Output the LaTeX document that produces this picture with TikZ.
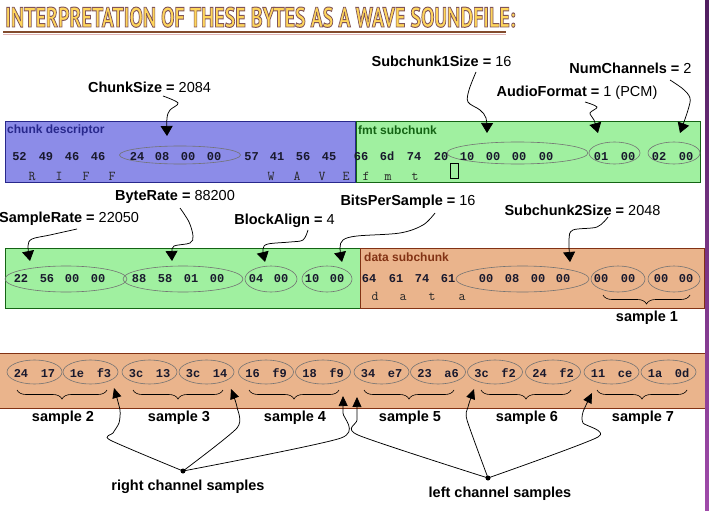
\documentclass[tikz,border=0pt]{standalone}
\usepackage{graphicx}
\usepackage{fontspec}
\setmainfont{Liberation Sans}
\newfontfamily\hexfont{Liberation Mono}
\newfontfamily\ascfont{Latin Modern Mono}
\newfontfamily\titlefont{PT Sans}
\usetikzlibrary{arrows.meta,decorations.pathreplacing,shapes.geometric}
\definecolor{blueF}{RGB}{140,140,232}
\definecolor{blueD}{RGB}{40,40,140}
\definecolor{greenF}{RGB}{160,240,160}
\definecolor{greenD}{RGB}{20,100,20}
\definecolor{orangeF}{RGB}{234,180,140}
\definecolor{orangeD}{RGB}{130,50,20}
\definecolor{titleY}{RGB}{255,214,92}
\definecolor{ruleB}{RGB}{130,75,45}
\definecolor{ruleS}{RGB}{225,180,180}
\definecolor{purT}{RGB}{80,30,95}
\definecolor{purB}{RGB}{160,75,170}
\definecolor{hexC}{RGB}{25,25,45}
\newcommand\mytitle{\resizebox{510pt}{20pt}{\fontsize{28.5}{28.5}\titlefont\bfseries\color{titleY}\special{pdf:literal direct 0.50 0.33 0.35 RG 1.0 w 2 Tr}INTERPRETATION OF THESE BYTES AS A WAVE SOUNDFILE:\special{pdf:literal direct 0 Tr}}}
\begin{document}
\begin{tikzpicture}[x=1pt,y=-1pt,
  lbl/.style={font=\fontsize{14.5}{14.5}\selectfont, inner sep=0pt},
  smp/.style={font=\bfseries\fontsize{14.5}{14.5}\selectfont, inner sep=0pt},
  sec/.style={font=\bfseries\fontsize{12}{12}\selectfont, inner sep=0pt, anchor=west},
  hexb/.style={font=\hexfont\bfseries\fontsize{12}{12}\selectfont, inner sep=0pt, anchor=base, text=hexC},
  asc/.style={font=\ascfont\fontsize{13.5}{13.5}\selectfont, inner sep=0pt, anchor=base, text=black!85},
  oval/.style={ellipse, draw=black!55, line width=0.6pt, inner sep=0pt},
  boxn/.style={line width=0.8pt, inner sep=0pt, anchor=north west},
  arr/.style={line width=0.75pt, -{Triangle[length=10pt,width=12pt]}},
  arrb/.style={line width=0.75pt, -{Triangle[length=10pt,width=9pt]}},
  brc/.style={decorate, decoration={brace, mirror, amplitude=9pt}, line width=0.6pt},
  dotn/.style={circle, fill=black, inner sep=0pt, minimum size=5pt}]
\useasboundingbox (0,0) rectangle (709,511);
\fill[white] (0,0) rectangle (709,511);
\shade[top color=purT,bottom color=purB] (705,0) rectangle (709,511);

% title
\node[inner sep=0pt, anchor=base west] (title) at (5,27) {\mytitle};
\draw[ruleS, line width=1.5pt] (3,34.5) -- (506,34.5);
\draw[ruleB, line width=2pt] (3,32) -- (506,32);

% ---------- row 1 ----------
\node[boxn, draw=blueD, fill=blueF, minimum width=350pt, minimum height=61pt] (chunkbox) at (5,121) {};
\node[boxn, draw=greenD, fill=greenF, minimum width=344pt, minimum height=61pt] (fmtbox) at (356,121) {};
\node[sec, text=blueD] (chunklbl) at (7,130) {chunk descriptor};
\node[sec, text=greenD] (fmtlbl) at (358,130) {fmt subchunk};

\node[oval, minimum width=121pt, minimum height=18pt] (ovCS) at (180,155) {};
\node[oval, minimum width=141pt, minimum height=22pt] (ovS1) at (517.5,153) {};
\node[oval, minimum width=51pt, minimum height=22pt] (ovAF) at (614.5,153) {};
\node[oval, minimum width=52pt, minimum height=22pt] (ovNC) at (674,153) {};

\foreach \x/\t [count=\i] in {19.5/52,46/49,72/46,98/46,137/24,162/08,188/00,214/00,251.5/57,277/41,303/56,329/45}
  \node[hexb] (ba\i) at (\x,160) {\t};
\foreach \x/\t [count=\i] in {32/R,59/I,86/F,112/F,271/W,297/A,322/V,346/E}
  \node[asc] (la\i) at (\x,180) {\t};
\foreach \x/\t [count=\i] in {361/66,387/6d,414/74,441/20,467/10,493/00,519/00,546/00,601/01,628/00,659/02,686/00}
  \node[hexb] (bb\i) at (\x,160) {\t};
\foreach \x/\t [count=\i] in {366/f,388/m,415/t}
  \node[asc] (lb\i) at (\x,180) {\t};
\draw[line width=0.6pt] (450,163) rectangle (458,178);

\node[lbl] (lCS) at (149.5,87) {\textbf{ChunkSize =} 2084};
\node[lbl] (lS1) at (441.5,61) {\textbf{Subchunk1Size =} 16};
\node[lbl] (lNC) at (630.5,68) {\textbf{NumChannels =} 2};
\node[lbl] (lAF) at (577,93) {\textbf{AudioFormat =} 1 (PCM)};

\coordinate (tCS) at (167,136);
\coordinate (tS1) at (487,133);
\coordinate (tAF) at (598,133);
\coordinate (tNC) at (680,133);
\draw[arr] plot[smooth,tension=0.55] coordinates {(163,96) (178,103) (170,110) (167,118) (tCS)};
\draw[arr] plot[smooth,tension=0.55] coordinates {(476,72) (469,90) (468,102) (480,110) (486,118) (tS1)};
\draw[arr] plot[smooth,tension=0.55] coordinates {(585,102) (597,107) (590,113) (594,120) (tAF)};
\draw[arr] plot[smooth,tension=0.55] coordinates {(670,80) (683,89) (690,98) (688,110) (tNC)};

% ---------- row 2 ----------
\node[boxn, draw=greenD, fill=greenF, minimum width=355pt, minimum height=60pt] (fmtbox2) at (5,248) {};
\node[boxn, draw=orangeD, fill=orangeF, minimum width=344pt, minimum height=60pt] (databox) at (360,248) {};
\node[sec, text=orangeD] (datalbl) at (364,257) {data subchunk};

\node[oval, minimum width=122pt, minimum height=26pt] (ovSR) at (66,279) {};
\node[oval, minimum width=120pt, minimum height=26pt] (ovBR) at (183,279) {};
\node[oval, minimum width=52pt, minimum height=26pt] (ovBA) at (271,279) {};
\node[oval, minimum width=50pt, minimum height=26pt] (ovBP) at (327,279) {};
\node[oval, minimum width=133pt, minimum height=26pt] (ovS2) at (522.5,279) {};
\node[oval, minimum width=54pt, minimum height=26pt] (ovD1) at (618,279) {};
\node[oval, minimum width=52pt, minimum height=26pt] (ovD2) at (674,279) {};

\foreach \x/\t [count=\i] in {21/22,47/56,72/00,98/00,139/88,165/58,191/01,217/00,256/04,281/00,312/10,337/00}
  \node[hexb] (bc\i) at (\x,282) {\t};
\foreach \x/\t [count=\i] in {369/64,396/61,422/74,448/61,486/00,512/08,538/00,563/00,601/00,628/00,661/00,686/00}
  \node[hexb] (bd\i) at (\x,282) {\t};
\foreach \x/\t [count=\i] in {375/d,403/a,432/t,462/a}
  \node[asc] (ld\i) at (\x,300) {\t};
\draw[brc] (603,295) -- (690,295);
\node[smp] (s1) at (647,318) {sample 1};

\node[lbl, anchor=west] (lSR) at (-1,219) {\textbf{SampleRate =} 22050};
\node[lbl] (lBR) at (175,197) {\textbf{ByteRate =} 88200};
\node[lbl] (lBA) at (284.5,221) {\textbf{BlockAlign =} 4};
\node[lbl] (lBP) at (408,202) {\textbf{BitsPerSample =} 16};
\node[lbl] (lS2) at (582.5,210) {\textbf{Subchunk2Size =} 2048};

\coordinate (tSR) at (30,261);
\coordinate (tBR) at (172,261);
\coordinate (tBA) at (265,262);
\coordinate (tBP) at (342,262);
\coordinate (tS2) at (570,262);
\draw[arr] plot[smooth,tension=0.55] coordinates {(77,229) (50,235) (32,239) (28,246) (tSR)};
\draw[arr] plot[smooth,tension=0.55] coordinates {(180,208) (189,222) (193,236) (190,243) (174,246) (172,252) (tBR)};
\draw[arr] plot[smooth,tension=0.55] coordinates {(308,230) (303,240) (290,242) (268,244) (263,249) (tBA)};
\draw[arr] plot[smooth,tension=0.55] coordinates {(435,213) (423,225) (400,233) (357,236) (343,240) (340,248) (tBP)};
\draw[arr] plot[smooth,tension=0.55] coordinates {(608,217) (597,227) (573,230) (569,240) (tS2)};

% ---------- row 3 ----------
\fill[orangeF] (0,353) rectangle (705,408);
\draw[orangeD, line width=0.8pt] (0,353) -- (705,353) (0,408) -- (705,408);
\foreach \x/\a/\b [count=\i] in {34.5/24/17,90.5/1e/f3,149.5/3c/13,206.5/3c/14,266/16/f9,323/18/f9,381.5/34/e7,438/23/a6,495/3c/f2,553/24/f2,611.5/11/ce,668.5/1a/0d}{
  \node[oval, minimum width=55pt, minimum height=24pt] (os\i) at (\x,372) {};
  \node[hexb] (sa\i) at (\x-13.5,377) {\a};
  \node[hexb] (sb\i) at (\x+13.5,377) {\b};
}
\foreach \c/\n in {62/2,178/3,294/4,409/5,526/6,642/7}{
  \draw[brc] (\c-45,390) -- (\c+45,390);
  \node[smp] (s\n) at (\c+1,418) {sample \n};
}

\node[dotn] (rdot) at (183,471) {};
\node[dotn] (ldot) at (488,478) {};
\node[smp] (rlbl) at (188,487) {right channel samples};
\node[smp] (llbl) at (500,494) {left channel samples};
\coordinate (tR1) at (114,388);
\coordinate (tR2) at (231,389);
\coordinate (tR3) at (343,396);
\coordinate (tL1) at (357,397);
\coordinate (tL2) at (474,389);
\coordinate (tL3) at (592,393);
\draw[arrb] plot[smooth,tension=0.4] coordinates {(rdot) (110,440) (113,433) (119,423) (120,410) (tR1)};
\draw[arrb] plot[smooth,tension=0.4] coordinates {(rdot) (237,428) (237,407) (tR2)};
\draw[arrb] plot[smooth,tension=0.4] coordinates {(rdot) (341,438) (343,413) (tR3)};
\draw[arrb] plot[smooth,tension=0.4] coordinates {(ldot) (358,435) (357,420) (tL1)};
\draw[arrb] plot[smooth,tension=0.4] coordinates {(ldot) (467,420) (468,407) (tL2)};
\draw[arrb] plot[smooth,tension=0.4] coordinates {(ldot) (598,437) (583,423) (583,412) (tL3)};
\end{tikzpicture}
\end{document}
